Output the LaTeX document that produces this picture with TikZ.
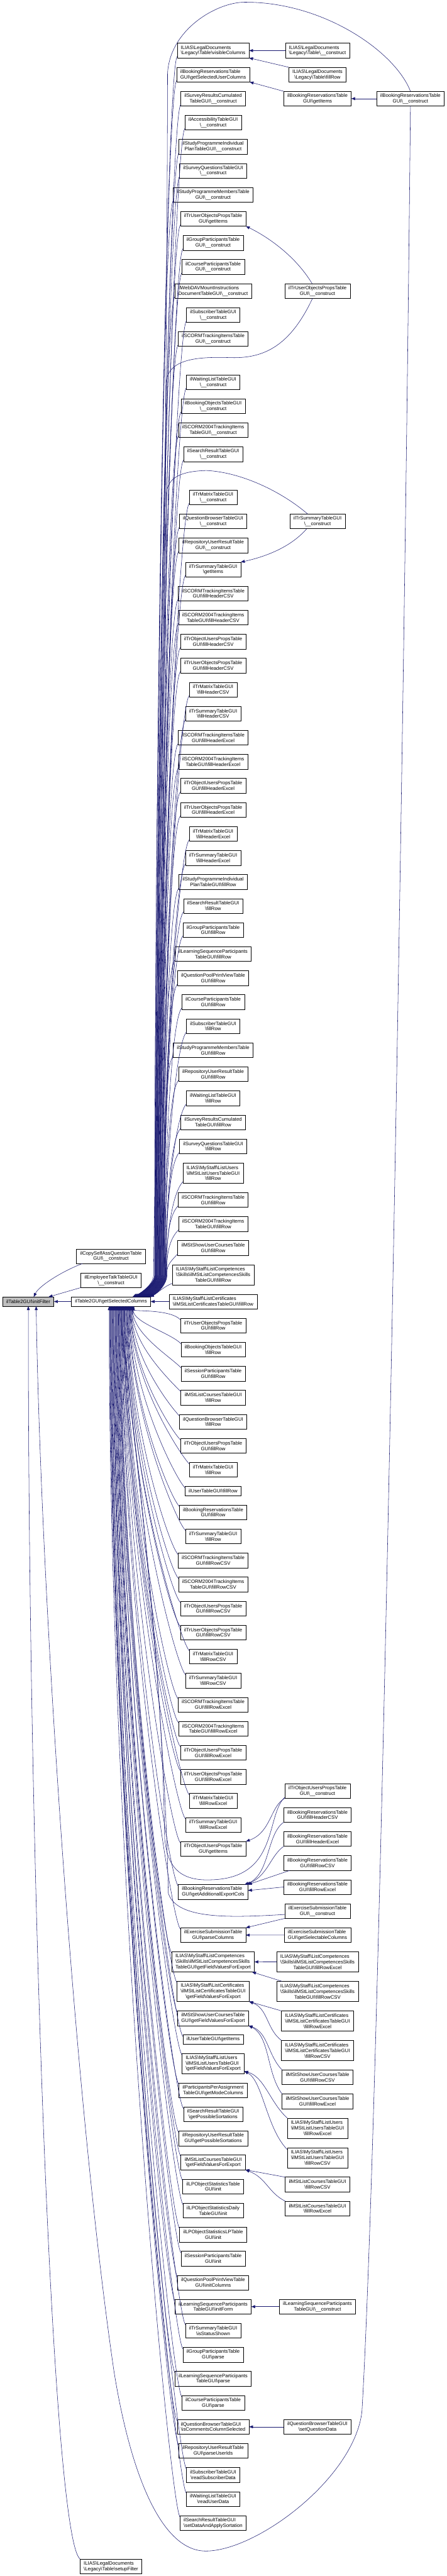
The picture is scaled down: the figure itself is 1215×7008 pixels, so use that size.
\documentclass[tikz,border=0pt]{standalone}
\usepackage{fontspec}
\setmainfont{Liberation Sans}
\usetikzlibrary{arrows.meta, positioning, calc}
\definecolor{dgBlue}{HTML}{191970}
\definecolor{dgGray}{HTML}{BFBFBF}
\newcommand{\bsl}{\textbackslash}
\newcommand{\nxl}{\\\hspace*{0pt plus 1fil}}

\begin{document}
\begin{tikzpicture}[
  x=0.75pt, y=-0.75pt,
  node distance=19.04pt,
  fn/.style={
    rectangle, draw=black, fill=white, line width=0.7pt,
    minimum height=30pt, inner xsep=7.5pt, inner ysep=2pt, outer sep=0pt,
    align=left, font=\fontsize{10}{11.25}\selectfont,
  },
  fn1/.style={fn, minimum height=18.75pt},
  fn3/.style={fn, minimum height=41.25pt},
  rootfn/.style={fn1, fill=dgGray},
  call/.style={dgBlue, line width=0.7pt, -{Triangle[length=8pt, width=6pt]}},
]
\useasboundingbox (0,0) rectangle (1215,7008);
\coordinate (colB) at (302,0);
\coordinate (colD) at (864,0);
\coordinate (colE) at (1117,0);

% Direct callers of getSelectedColumns
\node[fn] (vcol) at (580,137.6) {ILIAS\bsl LegalDocuments\nxl\bsl Legacy\bsl Table\bsl visibleColumns};
\node[fn, below=of vcol] (brsuc) {ilBookingReservationsTable\nxl GUI\bsl getSelectedUserColumns};
\node[fn, below=of brsuc] (srcc) {ilSurveyResultsCumulated\nxl TableGUI\bsl\_\_construct};
\node[fn, below=of srcc] (acc) {ilAccessibilityTableGUI\nxl\bsl\_\_construct};
\node[fn, below=of acc] (spic) {ilStudyProgrammeIndividual\nxl PlanTableGUI\bsl\_\_construct};
\node[fn, below=of spic] (sqc) {ilSurveyQuestionsTableGUI\nxl\bsl\_\_construct};
\node[fn, below=of sqc] (spmc) {ilStudyProgrammeMembersTable\nxl GUI\bsl\_\_construct};
\node[fn, below=of spmc] (tuogi) {ilTrUserObjectsPropsTable\nxl GUI\bsl getItems};
\node[fn, below=of tuogi] (gpc) {ilGroupParticipantsTable\nxl GUI\bsl\_\_construct};
\node[fn, below=of gpc] (cpc) {ilCourseParticipantsTable\nxl GUI\bsl\_\_construct};
\node[fn, below=of cpc] (wdav) {ilWebDAVMountInstructions\nxl DocumentTableGUI\bsl\_\_construct};
\node[fn, below=of wdav] (subc) {ilSubscriberTableGUI\nxl\bsl\_\_construct};
\node[fn, below=of subc] (scc) {ilSCORMTrackingItemsTable\nxl GUI\bsl\_\_construct};
\node[fn, below=58pt of scc] (wlc) {ilWaitingListTableGUI\nxl\bsl\_\_construct};
\node[fn, below=of wlc] (boc) {ilBookingObjectsTableGUI\nxl\bsl\_\_construct};
\node[fn, below=of boc] (s04c) {ilSCORM2004TrackingItems\nxl TableGUI\bsl\_\_construct};
\node[fn, below=of s04c] (srtc) {ilSearchResultTableGUI\nxl\bsl\_\_construct};
\node[fn, below=58pt of srtc] (tmc) {ilTrMatrixTableGUI\nxl\bsl\_\_construct};
\node[fn, below=of tmc] (qbc) {ilQuestionBrowserTableGUI\nxl\bsl\_\_construct};
\node[fn, below=of qbc] (rurc) {ilRepositoryUserResultTable\nxl GUI\bsl\_\_construct};
\node[fn, below=of rurc] (tsgi) {ilTrSummaryTableGUI\nxl\bsl getItems};
\node[fn, below=of tsgi] (schc) {ilSCORMTrackingItemsTable\nxl GUI\bsl fillHeaderCSV};
\node[fn, below=of schc] (s04hc) {ilSCORM2004TrackingItems\nxl TableGUI\bsl fillHeaderCSV};
\node[fn, below=of s04hc] (tohc) {ilTrObjectUsersPropsTable\nxl GUI\bsl fillHeaderCSV};
\node[fn, below=of tohc] (tuhc) {ilTrUserObjectsPropsTable\nxl GUI\bsl fillHeaderCSV};
\node[fn, below=of tuhc] (tmhc) {ilTrMatrixTableGUI\nxl\bsl fillHeaderCSV};
\node[fn, below=of tmhc] (tshc) {ilTrSummaryTableGUI\nxl\bsl fillHeaderCSV};
\node[fn, below=of tshc] (sche) {ilSCORMTrackingItemsTable\nxl GUI\bsl fillHeaderExcel};
\node[fn, below=of sche] (s04he) {ilSCORM2004TrackingItems\nxl TableGUI\bsl fillHeaderExcel};
\node[fn, below=of s04he] (tohe) {ilTrObjectUsersPropsTable\nxl GUI\bsl fillHeaderExcel};
\node[fn, below=of tohe] (tuhe) {ilTrUserObjectsPropsTable\nxl GUI\bsl fillHeaderExcel};
\node[fn, below=of tuhe] (tmhe) {ilTrMatrixTableGUI\nxl\bsl fillHeaderExcel};
\node[fn, below=of tmhe] (tshe) {ilTrSummaryTableGUI\nxl\bsl fillHeaderExcel};
\node[fn, below=of tshe] (spifr) {ilStudyProgrammeIndividual\nxl PlanTableGUI\bsl fillRow};
\node[fn, below=of spifr] (srfr) {ilSearchResultTableGUI\nxl\bsl fillRow};
\node[fn, below=of srfr] (gpfr) {ilGroupParticipantsTable\nxl GUI\bsl fillRow};
\node[fn, below=of gpfr] (lsfr) {ilLearningSequenceParticipants\nxl TableGUI\bsl fillRow};
\node[fn, below=of lsfr] (qpfr) {ilQuestionPoolPrintViewTable\nxl GUI\bsl fillRow};
\node[fn, below=of qpfr] (cpfr) {ilCourseParticipantsTable\nxl GUI\bsl fillRow};
\node[fn, below=of cpfr] (subfr) {ilSubscriberTableGUI\nxl\bsl fillRow};
\node[fn, below=of subfr] (spmfr) {ilStudyProgrammeMembersTable\nxl GUI\bsl fillRow};
\node[fn, below=of spmfr] (rurfr) {ilRepositoryUserResultTable\nxl GUI\bsl fillRow};
\node[fn, below=of rurfr] (wlfr) {ilWaitingListTableGUI\nxl\bsl fillRow};
\node[fn, below=of wlfr] (srcfr) {ilSurveyResultsCumulated\nxl TableGUI\bsl fillRow};
\node[fn, below=of srcfr] (sqfr) {ilSurveyQuestionsTableGUI\nxl\bsl fillRow};
\node[fn3, below=of sqfr] (lufr) {ILIAS\bsl MyStaff\bsl ListUsers\\\bsl ilMStListUsersTableGUI\nxl\bsl fillRow};
\node[fn, below=of lufr] (scfr) {ilSCORMTrackingItemsTable\nxl GUI\bsl fillRow};
\node[fn, below=of scfr] (s04fr) {ilSCORM2004TrackingItems\nxl TableGUI\bsl fillRow};
\node[fn, below=of s04fr] (sucfr) {ilMStShowUserCoursesTable\nxl GUI\bsl fillRow};
\node[fn3, below=of sucfr] (lcsfr) {ILIAS\bsl MyStaff\bsl ListCompetences\\\bsl Skills\bsl ilMStListCompetencesSkills\nxl TableGUI\bsl fillRow};
\node[fn, below=of lcsfr] (lcefr) {ILIAS\bsl MyStaff\bsl ListCertificates\nxl\bsl ilMStListCertificatesTableGUI\bsl fillRow};
\node[fn, below=of lcefr] (tufr) {ilTrUserObjectsPropsTable\nxl GUI\bsl fillRow};
\node[fn, below=of tufr] (bofr) {ilBookingObjectsTableGUI\nxl\bsl fillRow};
\node[fn, below=of bofr] (sesfr) {ilSessionParticipantsTable\nxl GUI\bsl fillRow};
\node[fn, below=of sesfr] (lcofr) {ilMStListCoursesTableGUI\nxl\bsl fillRow};
\node[fn, below=of lcofr] (qbfr) {ilQuestionBrowserTableGUI\nxl\bsl fillRow};
\node[fn, below=of qbfr] (tofr) {ilTrObjectUsersPropsTable\nxl GUI\bsl fillRow};
\node[fn, below=of tofr] (tmfr) {ilTrMatrixTableGUI\nxl\bsl fillRow};
\node[fn1, below=of tmfr] (utfr) {ilUserTableGUI\bsl fillRow};
\node[fn, below=of utfr] (brfr) {ilBookingReservationsTable\nxl GUI\bsl fillRow};
\node[fn, below=of brfr] (tsfr) {ilTrSummaryTableGUI\nxl\bsl fillRow};
\node[fn, below=of tsfr] (scrc) {ilSCORMTrackingItemsTable\nxl GUI\bsl fillRowCSV};
\node[fn, below=of scrc] (s04rc) {ilSCORM2004TrackingItems\nxl TableGUI\bsl fillRowCSV};
\node[fn, below=of s04rc] (torc) {ilTrObjectUsersPropsTable\nxl GUI\bsl fillRowCSV};
\node[fn, below=of torc] (turc) {ilTrUserObjectsPropsTable\nxl GUI\bsl fillRowCSV};
\node[fn, below=of turc] (tmrc) {ilTrMatrixTableGUI\nxl\bsl fillRowCSV};
\node[fn, below=of tmrc] (tsrc) {ilTrSummaryTableGUI\nxl\bsl fillRowCSV};
\node[fn, below=of tsrc] (scre) {ilSCORMTrackingItemsTable\nxl GUI\bsl fillRowExcel};
\node[fn, below=of scre] (s04re) {ilSCORM2004TrackingItems\nxl TableGUI\bsl fillRowExcel};
\node[fn, below=of s04re] (tore) {ilTrObjectUsersPropsTable\nxl GUI\bsl fillRowExcel};
\node[fn, below=of tore] (ture) {ilTrUserObjectsPropsTable\nxl GUI\bsl fillRowExcel};
\node[fn, below=of ture] (tmre) {ilTrMatrixTableGUI\nxl\bsl fillRowExcel};
\node[fn, below=of tmre] (tsre) {ilTrSummaryTableGUI\nxl\bsl fillRowExcel};
\node[fn, below=of tsre] (togi) {ilTrObjectUsersPropsTable\nxl GUI\bsl getItems};
\node[fn, below=58pt of togi] (braec) {ilBookingReservationsTable\nxl GUI\bsl getAdditionalExportCols};
\node[fn, below=58pt of braec] (espc) {ilExerciseSubmissionTable\nxl GUI\bsl parseColumns};
\node[fn3, below=of espc] (lcsgf) {ILIAS\bsl MyStaff\bsl ListCompetences\\\bsl Skills\bsl ilMStListCompetencesSkills\nxl TableGUI\bsl getFieldValuesForExport};
\node[fn3, below=of lcsgf] (lcegf) {ILIAS\bsl MyStaff\bsl ListCertificates\\\bsl ilMStListCertificatesTableGUI\nxl\bsl getFieldValuesForExport};
\node[fn, below=of lcegf] (sucgf) {ilMStShowUserCoursesTable\nxl GUI\bsl getFieldValuesForExport};
\node[fn1, below=of sucgf] (utgi) {ilUserTableGUI\bsl getItems};
\node[fn3, below=of utgi] (lugf) {ILIAS\bsl MyStaff\bsl ListUsers\\\bsl ilMStListUsersTableGUI\nxl\bsl getFieldValuesForExport};
\node[fn, below=of lugf] (ppamc) {ilParticipantsPerAssignment\nxl TableGUI\bsl getModeColumns};
\node[fn, below=of ppamc] (srps) {ilSearchResultTableGUI\nxl\bsl getPossibleSortations};
\node[fn, below=of srps] (rurps) {ilRepositoryUserResultTable\nxl GUI\bsl getPossibleSortations};
\node[fn, below=of rurps] (lcogf) {ilMStListCoursesTableGUI\nxl\bsl getFieldValuesForExport};
\node[fn, below=of lcogf] (lpost) {ilLPObjectStatisticsTable\nxl GUI\bsl init};
\node[fn, below=of lpost] (lposd) {ilLPObjectStatisticsDaily\nxl TableGUI\bsl init};
\node[fn, below=of lposd] (lposl) {ilLPObjectStatisticsLPTable\nxl GUI\bsl init};
\node[fn, below=of lposl] (sesin) {ilSessionParticipantsTable\nxl GUI\bsl init};
\node[fn, below=of sesin] (qpic) {ilQuestionPoolPrintViewTable\nxl GUI\bsl initColumns};
\node[fn, below=of qpic] (lsif) {ilLearningSequenceParticipants\nxl TableGUI\bsl initForm};
\node[fn, below=of lsif] (tsss) {ilTrSummaryTableGUI\nxl\bsl isStatusShown};
\node[fn, below=of tsss] (gpp) {ilGroupParticipantsTable\nxl GUI\bsl parse};
\node[fn, below=of gpp] (lsp) {ilLearningSequenceParticipants\nxl TableGUI\bsl parse};
\node[fn, below=of lsp] (cpp) {ilCourseParticipantsTable\nxl GUI\bsl parse};
\node[fn, below=of cpp] (qbccs) {ilQuestionBrowserTableGUI\nxl\bsl isCommentsColumnSelected};
\node[fn, below=of qbccs] (rurpu) {ilRepositoryUserResultTable\nxl GUI\bsl parseUserIds};
\node[fn, below=of rurpu] (subrs) {ilSubscriberTableGUI\nxl\bsl readSubscriberData};
\node[fn, below=of subrs] (wlru) {ilWaitingListTableGUI\nxl\bsl readUserData};
\node[fn, below=of wlru] (srsd) {ilSearchResultTableGUI\nxl\bsl setDataAndApplySortation};

% Second-level callers
\node[fn] (ldc) at (colD |- vcol) {ILIAS\bsl LegalDocuments\nxl\bsl Legacy\bsl Table\bsl\_\_construct};
\node[fn] (ldfr) at (colD |- brsuc) {ILIAS\bsl LegalDocuments\nxl\bsl Legacy\bsl Table\bsl fillRow};
\node[fn] (brgi) at (colD |- srcc) {ilBookingReservationsTable\nxl GUI\bsl getItems};
\node[fn] (brc) at (colE |- srcc) {ilBookingReservationsTable\nxl GUI\bsl\_\_construct};
\node[fn] (tuoc) at (colD |- wdav) {ilTrUserObjectsPropsTable\nxl GUI\bsl\_\_construct};
\node[fn] (tsc) at (colD |- qbc) {ilTrSummaryTableGUI\nxl\bsl\_\_construct};
\node[fn] (toc) at (864,4872) {ilTrObjectUsersPropsTable\nxl GUI\bsl\_\_construct};
\node[fn, below=of toc] (brhc) {ilBookingReservationsTable\nxl GUI\bsl fillHeaderCSV};
\node[fn, below=of brhc] (brhe) {ilBookingReservationsTable\nxl GUI\bsl fillHeaderExcel};
\node[fn, below=of brhe] (brrc) {ilBookingReservationsTable\nxl GUI\bsl fillRowCSV};
\node[fn, below=of brrc] (brre) {ilBookingReservationsTable\nxl GUI\bsl fillRowExcel};
\node[fn, below=of brre] (esc) {ilExerciseSubmissionTable\nxl GUI\bsl\_\_construct};
\node[fn, below=of esc] (essc) {ilExerciseSubmissionTable\nxl GUI\bsl getSelectableColumns};
\node[fn3, below=of essc] (lcsre) {ILIAS\bsl MyStaff\bsl ListCompetences\\\bsl Skills\bsl ilMStListCompetencesSkills\nxl TableGUI\bsl fillRowExcel};
\node[fn3, below=of lcsre] (lcsrc) {ILIAS\bsl MyStaff\bsl ListCompetences\\\bsl Skills\bsl ilMStListCompetencesSkills\nxl TableGUI\bsl fillRowCSV};
\node[fn3, below=of lcsrc] (lcere) {ILIAS\bsl MyStaff\bsl ListCertificates\\\bsl ilMStListCertificatesTableGUI\nxl\bsl fillRowExcel};
\node[fn3, below=of lcere] (lcerc) {ILIAS\bsl MyStaff\bsl ListCertificates\\\bsl ilMStListCertificatesTableGUI\nxl\bsl fillRowCSV};
\node[fn, below=of lcerc] (sucrc) {ilMStShowUserCoursesTable\nxl GUI\bsl fillRowCSV};
\node[fn, below=of sucrc] (sucre) {ilMStShowUserCoursesTable\nxl GUI\bsl fillRowExcel};
\node[fn3, below=of sucre] (lure) {ILIAS\bsl MyStaff\bsl ListUsers\\\bsl ilMStListUsersTableGUI\nxl\bsl fillRowExcel};
\node[fn3, below=of lure] (lurc) {ILIAS\bsl MyStaff\bsl ListUsers\\\bsl ilMStListUsersTableGUI\nxl\bsl fillRowCSV};
\node[fn, below=of lurc] (lcorc) {ilMStListCoursesTableGUI\nxl\bsl fillRowCSV};
\node[fn, below=of lcorc] (lcore) {ilMStListCoursesTableGUI\nxl\bsl fillRowExcel};
\node[fn] (lsc) at (colD |- lsif) {ilLearningSequenceParticipants\nxl TableGUI\bsl\_\_construct};
\node[fn] (qbsq) at (colD |- qbccs) {ilQuestionBrowserTableGUI\nxl\bsl setQuestionData};

% Left part
\node[fn1] (gsc) at (colB |- lcefr) {ilTable2GUI\bsl getSelectedColumns};
\node[fn, above=of gsc] (etc) {ilEmployeeTalkTableGUI\nxl\bsl\_\_construct};
\node[fn, above=of etc] (csaq) {ilCopySelfAssQuestionTable\nxl GUI\bsl\_\_construct};
\node[rootfn, left=35.6pt of gsc] (root) {ilTable2GUI\bsl initFilter};
\node[fn] (sfl) at (302,6981.8) {ILIAS\bsl LegalDocuments\nxl\bsl Legacy\bsl Table\bsl setupFilter};

% Bundle into getSelectedColumns from above
\foreach \nd [count=\i] in {vcol, brsuc, srcc, acc, spic, sqc, spmc, tuogi, gpc, cpc,
    wdav, subc, scc, wlc, boc, s04c, srtc, tmc, qbc, rurc, tsgi, schc, s04hc, tohc,
    tuhc, tmhc, tshc, sche, s04he, tohe, tuhe, tmhe, tshe, spifr, srfr, gpfr, lsfr,
    qpfr, cpfr, subfr, spmfr, rurfr, wlfr, srcfr, sqfr, lufr, scfr, s04fr, sucfr}
  \draw[call] let \p1=(\nd.south west), \p3=({420+0.7*\i},3470) in
    ([yshift=3pt]\nd.south west) .. controls +(-21pt,-22pt) and +(0pt,{0.45*(\y1-\y3)}) .. (\p3)
    .. controls +(0pt,-15pt) and +(19pt,9pt) .. ([xshift={44pt+0.72pt*\i}]gsc.north);
\draw[call] ([yshift=3pt]lcsfr.south west) .. controls +(-15pt,-5pt) and +(15pt,8pt) .. ([xshift=-1pt]gsc.north east);

% Bundle into getSelectedColumns from below
\foreach \nd [count=\i] in {tufr, bofr, sesfr, lcofr, qbfr, tofr, tmfr, utfr, brfr, tsfr,
    scrc, s04rc, torc, turc, tmrc, tsrc, scre, s04re, tore, ture, tmre, tsre, togi,
    braec, espc, lcsgf, lcegf, sucgf, utgi, lugf, ppamc, srps, rurps, lcogf, lpost,
    lposd, lposl, sesin, qpic, lsif, tsss, gpp, lsp, cpp, qbccs, rurpu, subrs, wlru, srsd}
  \draw[call] let \p1=(\nd.north west), \p2=(gsc.south) in
    ([yshift=-3pt]\nd.north west) .. controls +(-21pt,22pt) and +(-2pt,{0.45*(\y1-\y2)}) .. ([xshift={48pt-1.05pt*\i}]gsc.south);

% Long curves of the second-level callers
\draw[call] (brc.north) .. controls (1075,140) and (880,5) .. (666,6)
  .. controls (590,6) and (462,80) .. (456,200)
  .. controls (452,1800) and (418,3300) .. (418,3470)
  .. controls (418,3490) and (390,3515) .. ([xshift=44pt]gsc.north);
\draw[call] ([xshift=-10pt]tuoc.south) .. controls (790,940) and (720,975) .. (630,973)
  .. controls (540,970) and (458,975) .. (452,1040)
  .. controls (446,2300) and (422,3300) .. (422,3470)
  .. controls (422,3490) and (395,3515) .. ([xshift=48pt]gsc.north);
\draw[call] ([xshift=-20pt]tsc.north) .. controls (770,1340) and (660,1285) .. (562,1280)
  .. controls (490,1282) and (458,1300) .. (453,1340)
  .. controls (448,2400) and (426,3300) .. (426,3470)
  .. controls (426,3490) and (400,3515) .. ([xshift=52pt]gsc.north);
\draw[call] ([yshift=2pt]toc.south west) .. controls (722,4940) and (760,5110) .. (573,5114)
  .. controls (490,5117) and (455,5080) .. (448,5000)
  .. controls (440,4400) and (335,3700) .. ([xshift=20pt]gsc.south);
\draw[call] ([yshift=-7pt]esc.west) .. controls (640,5216) and (480,5225) .. (458,5150)
  .. controls (445,4500) and (340,3700) .. ([xshift=16pt]gsc.south);

% Short arrows between neighbours
\draw[call] (ldc) -- (vcol);
\draw[call] (ldfr.north west) -- (vcol.south east);
\draw[call] (brc) -- (brgi);
\draw[call] (brgi.north west) -- (brsuc.south east);
\draw[call] ([xshift=-11pt]tuoc.north) .. controls (800,690) and (720,640) .. (tuogi.south east);
\draw[call] ([xshift=-22pt]tsc.south) .. controls (790,1490) and (720,1515) .. (tsgi.north east);
\draw[call] (toc.south west) .. controls (735,4915) and (738,4985) .. (togi.north east);
\draw[call] (brhc.south west) .. controls (725,4990) and (735,5100) .. ([xshift=-7pt]braec.north east);
\draw[call] (brhe.south west) .. controls (735,5050) and (730,5100) .. ([xshift=-3pt]braec.north east);
\draw[call] ([xshift=13pt]brrc.south west) -- (braec.north east);
\draw[call] (brre.west) -- ([yshift=3pt]braec.east);
\draw[call] (esc.south west) -- (espc.north east);
\draw[call] (essc) -- (espc);
\draw[call] (lcsre) -- (lcsgf);
\draw[call] ([xshift=11pt]lcsrc.north west) -- ([xshift=-5pt]lcsgf.south east);
\draw[call] (lcere.north west) -- (lcegf.south east);
\draw[call] (lcerc.north west) .. controls (725,5520) and (730,5465) .. (lcegf.south east);
\draw[call] (sucrc.north west) .. controls (728,5590) and (730,5530) .. (sucgf.south east);
\draw[call] (sucre.north west) .. controls (725,5640) and (735,5540) .. (sucgf.south east);
\draw[call] (lure.north west) .. controls (735,5720) and (720,5650) .. ([yshift=5pt]lugf.south east);
\draw[call] ([yshift=-4pt]lurc.north west) .. controls (725,5790) and (715,5660) .. ([yshift=5pt]lugf.south east);
\draw[call] (lcorc.north west) -- (lcogf.south east);
\draw[call] (lcore.north west) .. controls (730,5965) and (725,5925) .. (lcogf.south east);
\draw[call] (lsc) -- (lsif);
\draw[call] (qbsq) -- (qbccs);
\draw[call] (lcefr) -- (gsc);

% Into initFilter
\draw[call] (gsc) -- (root);
\draw[call] ([xshift=12pt]csaq.south west) .. controls (165,3460) and (105,3500) .. ([xshift=11pt]root.north);
\draw[call] (etc.south west) -- ([xshift=-11pt]root.north east);
\draw[call] (sfl.north west) .. controls (140,6900) and (76,5000) .. (root.south);
\draw[call] (brc.south) .. controls (1095,2500) and (1030,5800) .. (985,6560)
  .. controls (965,6740) and (700,6940) .. (560,6940)
  .. controls (430,6940) and (350,6700) .. (310,6450)
  .. controls (200,5700) and (110,4300) .. ([xshift=16pt]root.south);

\end{tikzpicture}
\end{document}
